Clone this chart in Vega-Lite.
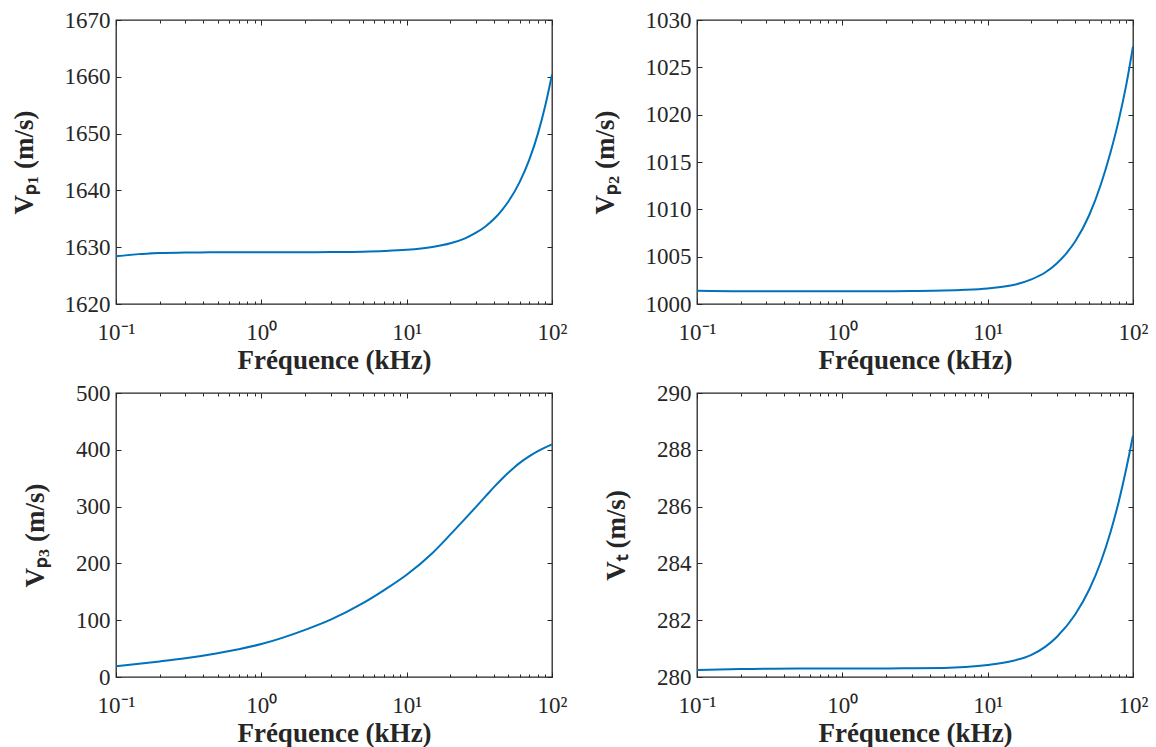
{
  "$schema": "https://vega.github.io/schema/vega-lite/v6.json",
  "background": "white",
  "padding": {"left": 9, "top": 8, "right": 5, "bottom": 5},
  "bounds": "flush",
  "columns": 2,
  "spacing": {"row": 89, "column": 145},
  "datasets": {
    "p1": [
      {"f": 0.1, "v": 1628.4}, {"f": 0.2, "v": 1629.0}, {"f": 0.3, "v": 1629.05}, {"f": 0.5, "v": 1629.1},
      {"f": 1, "v": 1629.1}, {"f": 2, "v": 1629.12}, {"f": 3, "v": 1629.15}, {"f": 5, "v": 1629.22},
      {"f": 7, "v": 1629.33}, {"f": 10, "v": 1629.54}, {"f": 15, "v": 1630.04}, {"f": 20, "v": 1630.69},
      {"f": 25, "v": 1631.52}, {"f": 30, "v": 1632.55}, {"f": 35, "v": 1633.7}, {"f": 40, "v": 1635.0},
      {"f": 45, "v": 1636.45}, {"f": 50, "v": 1638.0}, {"f": 60, "v": 1641.5}, {"f": 70, "v": 1645.5},
      {"f": 80, "v": 1650.0}, {"f": 90, "v": 1655.0}, {"f": 100, "v": 1660.4}
    ],
    "p2": [
      {"f": 0.1, "v": 1001.4}, {"f": 0.2, "v": 1001.35}, {"f": 0.5, "v": 1001.35}, {"f": 1, "v": 1001.35},
      {"f": 2, "v": 1001.35}, {"f": 3, "v": 1001.37}, {"f": 5, "v": 1001.42}, {"f": 7, "v": 1001.5},
      {"f": 10, "v": 1001.65}, {"f": 15, "v": 1002.0}, {"f": 20, "v": 1002.6}, {"f": 25, "v": 1003.35},
      {"f": 30, "v": 1004.3}, {"f": 35, "v": 1005.4}, {"f": 40, "v": 1006.6}, {"f": 50, "v": 1009.4},
      {"f": 60, "v": 1012.6}, {"f": 70, "v": 1016.0}, {"f": 80, "v": 1019.5}, {"f": 90, "v": 1023.2},
      {"f": 100, "v": 1027.2}
    ],
    "p3": [
      {"f": 0.1, "v": 18.7}, {"f": 0.2, "v": 27.4}, {"f": 0.3, "v": 33}, {"f": 0.5, "v": 42}, {"f": 0.7, "v": 49},
      {"f": 1, "v": 58}, {"f": 2, "v": 83}, {"f": 3, "v": 101}, {"f": 5, "v": 130}, {"f": 7, "v": 153},
      {"f": 10, "v": 180}, {"f": 15, "v": 218}, {"f": 20, "v": 251}, {"f": 25, "v": 277.5}, {"f": 30, "v": 299.5},
      {"f": 35, "v": 318.4}, {"f": 40, "v": 334.8}, {"f": 45, "v": 348.2}, {"f": 50, "v": 359.5}, {"f": 55, "v": 368.9},
      {"f": 60, "v": 377}, {"f": 70, "v": 389}, {"f": 80, "v": 397.8}, {"f": 90, "v": 404.3}, {"f": 100, "v": 409.4}
    ],
    "p4": [
      {"f": 0.1, "v": 280.25}, {"f": 0.2, "v": 280.28}, {"f": 0.5, "v": 280.3}, {"f": 1, "v": 280.3},
      {"f": 2, "v": 280.3}, {"f": 3, "v": 280.31}, {"f": 5, "v": 280.32}, {"f": 7, "v": 280.35},
      {"f": 10, "v": 280.42}, {"f": 15, "v": 280.57}, {"f": 20, "v": 280.78}, {"f": 25, "v": 281.07},
      {"f": 30, "v": 281.42}, {"f": 40, "v": 282.2}, {"f": 50, "v": 283.08}, {"f": 60, "v": 284.05},
      {"f": 70, "v": 285.1}, {"f": 80, "v": 286.2}, {"f": 90, "v": 287.35}, {"f": 100, "v": 288.5}
    ]
  },
  "concat": [
    {
      "width": 436, "height": 284,
      "data": {"name": "p1"},
      "resolve": {"axis": {"x": "independent", "y": "independent"}},
      "layer": [
        {
          "mark": {"type": "line", "color": "#0072BD", "strokeWidth": 2, "interpolate": "monotone", "clip": true},
          "encoding": {
            "x": {"field": "f", "type": "quantitative", "scale": {"type": "log", "domain": [0.1, 100], "nice": false},
              "axis": {"orient": "bottom", "title": "Fréquence (kHz)",
                "values": [0.1,0.2,0.3,0.4,0.5,0.6,0.7,0.8,0.9,1,2,3,4,5,6,7,8,9,10,20,30,40,50,60,70,80,90,100],
                "tickSize": {"condition": {"test": "indexof([0.1,1,10,100], datum.value) >= 0", "value": -5}, "value": -3},
                "labelExpr": "datum.value == 0.1 ? '10⁻¹' : datum.value == 1 ? '10⁰' : datum.value == 10 ? '10¹' : datum.value == 100 ? '10²' : ''"}},
            "y": {"field": "v", "type": "quantitative", "scale": {"domain": [1620, 1670], "nice": false, "zero": false},
              "axis": {"orient": "left", "title": "Vₚ₁ (m/s)", "format": "d", "values": [1620,1630,1640,1650,1660,1670]}}
          }
        },
        {
          "mark": {"type": "line", "strokeOpacity": 0},
          "encoding": {
            "x": {"field": "f", "type": "quantitative",
              "axis": {"orient": "top", "title": null, "labels": false,
                "values": [0.1,0.2,0.3,0.4,0.5,0.6,0.7,0.8,0.9,1,2,3,4,5,6,7,8,9,10,20,30,40,50,60,70,80,90,100],
                "tickSize": {"condition": {"test": "indexof([0.1,1,10,100], datum.value) >= 0", "value": -5}, "value": -3}}},
            "y": {"field": "v", "type": "quantitative",
              "axis": {"orient": "right", "title": null, "labels": false, "values": [1620,1630,1640,1650,1660,1670]}}
          }
        }
      ]
    },
    {
      "width": 436, "height": 284,
      "data": {"name": "p2"},
      "resolve": {"axis": {"x": "independent", "y": "independent"}},
      "layer": [
        {
          "mark": {"type": "line", "color": "#0072BD", "strokeWidth": 2, "interpolate": "monotone", "clip": true},
          "encoding": {
            "x": {"field": "f", "type": "quantitative", "scale": {"type": "log", "domain": [0.1, 100], "nice": false},
              "axis": {"orient": "bottom", "title": "Fréquence (kHz)",
                "values": [0.1,0.2,0.3,0.4,0.5,0.6,0.7,0.8,0.9,1,2,3,4,5,6,7,8,9,10,20,30,40,50,60,70,80,90,100],
                "tickSize": {"condition": {"test": "indexof([0.1,1,10,100], datum.value) >= 0", "value": -5}, "value": -3},
                "labelExpr": "datum.value == 0.1 ? '10⁻¹' : datum.value == 1 ? '10⁰' : datum.value == 10 ? '10¹' : datum.value == 100 ? '10²' : ''"}},
            "y": {"field": "v", "type": "quantitative", "scale": {"domain": [1000, 1030], "nice": false, "zero": false},
              "axis": {"orient": "left", "title": "Vₚ₂ (m/s)", "format": "d", "values": [1000,1005,1010,1015,1020,1025,1030]}}
          }
        },
        {
          "mark": {"type": "line", "strokeOpacity": 0},
          "encoding": {
            "x": {"field": "f", "type": "quantitative",
              "axis": {"orient": "top", "title": null, "labels": false,
                "values": [0.1,0.2,0.3,0.4,0.5,0.6,0.7,0.8,0.9,1,2,3,4,5,6,7,8,9,10,20,30,40,50,60,70,80,90,100],
                "tickSize": {"condition": {"test": "indexof([0.1,1,10,100], datum.value) >= 0", "value": -5}, "value": -3}}},
            "y": {"field": "v", "type": "quantitative",
              "axis": {"orient": "right", "title": null, "labels": false, "values": [1000,1005,1010,1015,1020,1025,1030]}}
          }
        }
      ]
    },
    {
      "width": 436, "height": 284,
      "data": {"name": "p3"},
      "resolve": {"axis": {"x": "independent", "y": "independent"}},
      "layer": [
        {
          "mark": {"type": "line", "color": "#0072BD", "strokeWidth": 2, "interpolate": "monotone", "clip": true},
          "encoding": {
            "x": {"field": "f", "type": "quantitative", "scale": {"type": "log", "domain": [0.1, 100], "nice": false},
              "axis": {"orient": "bottom", "title": "Fréquence (kHz)",
                "values": [0.1,0.2,0.3,0.4,0.5,0.6,0.7,0.8,0.9,1,2,3,4,5,6,7,8,9,10,20,30,40,50,60,70,80,90,100],
                "tickSize": {"condition": {"test": "indexof([0.1,1,10,100], datum.value) >= 0", "value": -5}, "value": -3},
                "labelExpr": "datum.value == 0.1 ? '10⁻¹' : datum.value == 1 ? '10⁰' : datum.value == 10 ? '10¹' : datum.value == 100 ? '10²' : ''"}},
            "y": {"field": "v", "type": "quantitative", "scale": {"domain": [0, 500], "nice": false, "zero": false},
              "axis": {"orient": "left", "title": "Vₚ₃ (m/s)", "format": "d", "values": [0,100,200,300,400,500]}}
          }
        },
        {
          "mark": {"type": "line", "strokeOpacity": 0},
          "encoding": {
            "x": {"field": "f", "type": "quantitative",
              "axis": {"orient": "top", "title": null, "labels": false,
                "values": [0.1,0.2,0.3,0.4,0.5,0.6,0.7,0.8,0.9,1,2,3,4,5,6,7,8,9,10,20,30,40,50,60,70,80,90,100],
                "tickSize": {"condition": {"test": "indexof([0.1,1,10,100], datum.value) >= 0", "value": -5}, "value": -3}}},
            "y": {"field": "v", "type": "quantitative",
              "axis": {"orient": "right", "title": null, "labels": false, "values": [0,100,200,300,400,500]}}
          }
        }
      ]
    },
    {
      "width": 436, "height": 284,
      "data": {"name": "p4"},
      "resolve": {"axis": {"x": "independent", "y": "independent"}},
      "layer": [
        {
          "mark": {"type": "line", "color": "#0072BD", "strokeWidth": 2, "interpolate": "monotone", "clip": true},
          "encoding": {
            "x": {"field": "f", "type": "quantitative", "scale": {"type": "log", "domain": [0.1, 100], "nice": false},
              "axis": {"orient": "bottom", "title": "Fréquence (kHz)",
                "values": [0.1,0.2,0.3,0.4,0.5,0.6,0.7,0.8,0.9,1,2,3,4,5,6,7,8,9,10,20,30,40,50,60,70,80,90,100],
                "tickSize": {"condition": {"test": "indexof([0.1,1,10,100], datum.value) >= 0", "value": -5}, "value": -3},
                "labelExpr": "datum.value == 0.1 ? '10⁻¹' : datum.value == 1 ? '10⁰' : datum.value == 10 ? '10¹' : datum.value == 100 ? '10²' : ''"}},
            "y": {"field": "v", "type": "quantitative", "scale": {"domain": [280, 290], "nice": false, "zero": false},
              "axis": {"orient": "left", "title": "Vₜ (m/s)", "format": "d", "values": [280,282,284,286,288,290]}}
          }
        },
        {
          "mark": {"type": "line", "strokeOpacity": 0},
          "encoding": {
            "x": {"field": "f", "type": "quantitative",
              "axis": {"orient": "top", "title": null, "labels": false,
                "values": [0.1,0.2,0.3,0.4,0.5,0.6,0.7,0.8,0.9,1,2,3,4,5,6,7,8,9,10,20,30,40,50,60,70,80,90,100],
                "tickSize": {"condition": {"test": "indexof([0.1,1,10,100], datum.value) >= 0", "value": -5}, "value": -3}}},
            "y": {"field": "v", "type": "quantitative",
              "axis": {"orient": "right", "title": null, "labels": false, "values": [280,282,284,286,288,290]}}
          }
        }
      ]
    }
  ],
  "config": {
    "font": "Liberation Serif",
    "view": {"stroke": "#262626", "strokeWidth": 1.3},
    "axis": {
      "domain": false, "grid": false, "ticks": true,
      "tickColor": "#262626", "tickWidth": 1,
      "labelFont": "Liberation Serif", "labelFontSize": 23, "labelColor": "#262626",
      "labelFlush": false, "labelOverlap": false,
      "titleFont": "Liberation Serif", "titleFontSize": 27, "titleFontWeight": "bold", "titleColor": "#262626"
    },
    "axisX": {"labelPadding": 22, "titlePadding": 1},
    "axisY": {"labelPadding": 11, "titlePadding": 26, "tickSize": -5}
  }
}
